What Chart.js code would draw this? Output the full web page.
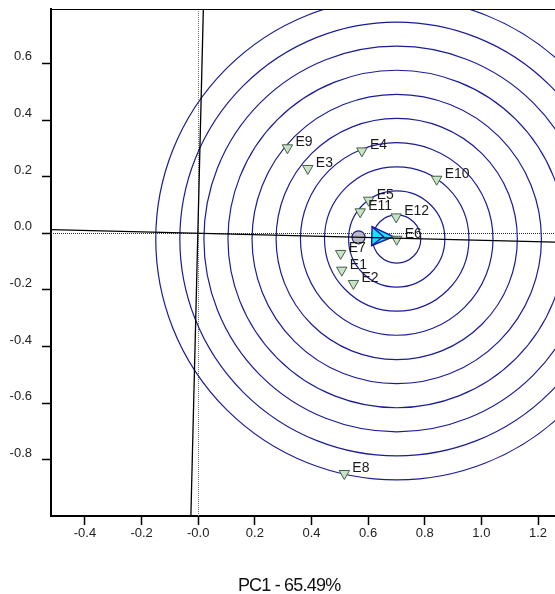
<!DOCTYPE html>
<html>
<head>
<meta charset="utf-8">
<script src="https://cdn.jsdelivr.net/npm/chart.js@4.4.0/dist/chart.umd.min.js"></script>
<style>
  html, body { margin: 0; padding: 0; background: #fff; overflow: hidden; }
  canvas { display: block; }
</style>
</head>
<body>
<canvas id="biplot" width="555" height="594"></canvas>
<script>
// Environment scores on PC1 / PC2
const envLabels = ['E1', 'E2', 'E3', 'E4', 'E5', 'E6', 'E7', 'E8', 'E9', 'E10', 'E11', 'E12'];
const envPC1 = [0.507, 0.548, 0.387, 0.578, 0.602, 0.701, 0.503, 0.516, 0.315, 0.842, 0.572, 0.699];
const envPC2 = [-0.130, -0.177, 0.229, 0.291, 0.117, -0.021, -0.071, -0.848, 0.302, 0.191, 0.076, 0.058];

// Average environment marker and arrow tip on the average-environment axis
const avgEnv = [0.566, -0.014];
const idealTip = [0.689, -0.012];

// Concentric rings around the ideal environment
const ringCenter = [0.701, -0.020];
const ringRadii = [0.085, 0.170, 0.255, 0.340, 0.426, 0.511, 0.596, 0.681, 0.766, 0.851];

// Average-environment axis and its perpendicular through the origin
const aeaAxisX = [-0.52, 1.27];
const aeaAxisY = [0.0128, -0.0314];
const aeaPerpX = [0.018, -0.026];
const aeaPerpY = [0.79, -1.0];

// Axis ticks
const xTicks = [-0.4, -0.2, 0, 0.2, 0.4, 0.6, 0.8, 1.0, 1.2];
const xTickLabels = ['-0.4', '-0.2', '-0.0', '0.2', '0.4', '0.6', '0.8', '1.0', '1.2'];
const yTicks = [-0.8, -0.6, -0.4, -0.2, 0, 0.2, 0.4, 0.6];
const yTickLabels = ['-0.8', '-0.6', '-0.4', '-0.2', '0.0', '0.2', '0.4', '0.6'];
const xTitle = 'PC1 - 65.49%';
const xTitleAt = 0.321;

const FONT = "'Liberation Sans', Arial, sans-serif";
const RING_COLOR = '#1c1c98';

const toPoints = (xs, ys) => xs.map((x, i) => ({ x, y: ys[i] }));

// Fixed scale footprint, no label-driven padding
const fixSize = (prop, size) => s => {
  s[prop] = size;
  s.paddingTop = s.paddingBottom = s.paddingLeft = s.paddingRight = 0;
};

// Background guides: dotted origin lines, concentric rings, arrow
const backdrop = {
  id: 'backdrop',
  beforeDatasetsDraw(chart) {
    const { ctx, chartArea: a, scales: { x, y } } = chart;
    ctx.save();
    ctx.beginPath();
    ctx.rect(a.left, a.top, a.right - a.left, a.bottom - a.top);
    ctx.clip();

    // dotted lines through the origin
    ctx.setLineDash([1, 1]);
    ctx.lineWidth = 1;
    ctx.strokeStyle = '#777';
    const x0 = Math.round(x.getPixelForValue(0)) + 0.5;
    ctx.beginPath(); ctx.moveTo(x0, a.top); ctx.lineTo(x0, a.bottom); ctx.stroke();
    ctx.strokeStyle = '#333';
    const y0 = Math.round(y.getPixelForValue(0)) + 0.5;
    ctx.beginPath(); ctx.moveTo(a.left, y0); ctx.lineTo(a.right, y0); ctx.stroke();
    ctx.setLineDash([]);

    // rings
    const cx = x.getPixelForValue(ringCenter[0]);
    const cy = y.getPixelForValue(ringCenter[1]);
    ctx.strokeStyle = RING_COLOR;
    ctx.lineWidth = 1.2;
    ringRadii.forEach(r => {
      const rp = x.getPixelForValue(ringCenter[0] + r) - cx;
      ctx.beginPath();
      ctx.arc(cx, cy, rp, 0, Math.PI * 2);
      ctx.stroke();
    });

    // arrow head pointing along the average-environment axis
    const tx = x.getPixelForValue(idealTip[0]);
    const ty = y.getPixelForValue(idealTip[1]);
    const ang = Math.atan2(
      y.getPixelForValue(aeaAxisY[1]) - y.getPixelForValue(aeaAxisY[0]),
      x.getPixelForValue(aeaAxisX[1]) - x.getPixelForValue(aeaAxisX[0]));
    ctx.translate(tx, ty);
    ctx.rotate(ang);
    ctx.beginPath();
    ctx.moveTo(0, 0);
    ctx.lineTo(-21.5, -9.5);
    ctx.lineTo(-21.5, 9.5);
    ctx.closePath();
    ctx.fillStyle = '#18e4ff';
    ctx.fill();
    ctx.lineWidth = 1.4;
    ctx.strokeStyle = '#1818a0';
    ctx.stroke();
    ctx.beginPath();
    ctx.moveTo(-21.5, -9.5);
    ctx.lineTo(-10, 0);
    ctx.lineTo(-21.5, 9.5);
    ctx.stroke();
    ctx.restore();
  }
};

// Environment names, top frame line and axis title
const annotations = {
  id: 'annotations',
  afterDatasetsDraw(chart) {
    const { ctx, chartArea: a, scales: { x } } = chart;
    ctx.save();
    const meta = chart.getDatasetMeta(chart.data.datasets.findIndex(d => d.label === 'env'));
    ctx.font = '14px ' + FONT;
    ctx.fillStyle = '#1a1a1a';
    ctx.textAlign = 'left';
    ctx.textBaseline = 'middle';
    meta.data.forEach((pt, i) => {
      ctx.fillText(envLabels[i], pt.x + 8, pt.y - 5.5);
    });

    ctx.strokeStyle = '#000';
    ctx.lineWidth = 1.2;
    ctx.beginPath();
    ctx.moveTo(a.left, a.top + 0.5);
    ctx.lineTo(a.right, a.top + 0.5);
    ctx.stroke();

    ctx.font = '18px ' + FONT;
    if ('letterSpacing' in ctx) ctx.letterSpacing = '-0.8px';
    ctx.fillStyle = '#111';
    ctx.textAlign = 'center';
    ctx.textBaseline = 'alphabetic';
    ctx.fillText(xTitle, x.getPixelForValue(xTitleAt), 590.5);
    ctx.restore();
  }
};

new Chart(document.getElementById('biplot'), {
  type: 'scatter',
  data: {
    datasets: [
      {
        label: 'aea',
        type: 'line',
        data: toPoints(aeaAxisX, aeaAxisY),
        borderColor: '#000',
        borderWidth: 1.3,
        pointRadius: 0,
        fill: false
      },
      {
        label: 'perp',
        type: 'line',
        data: toPoints(aeaPerpX, aeaPerpY),
        borderColor: '#000',
        borderWidth: 1.3,
        pointRadius: 0,
        fill: false
      },
      {
        label: 'avg',
        data: [{ x: avgEnv[0], y: avgEnv[1] }],
        pointStyle: 'circle',
        pointRadius: 6.5,
        backgroundColor: '#b9b9c8',
        borderColor: RING_COLOR,
        borderWidth: 1.2
      },
      {
        label: 'env',
        data: toPoints(envPC1, envPC2),
        pointStyle: 'triangle',
        rotation: 180,
        pointRadius: 6,
        backgroundColor: '#c6e4c6',
        borderColor: '#4a5c4a',
        borderWidth: 1
      }
    ]
  },
  options: {
    responsive: false,
    devicePixelRatio: 1,
    animation: false,
    events: [],
    layout: { autoPadding: false, padding: { top: 9, right: 0, left: 0, bottom: 0 } },
    plugins: {
      legend: { display: false },
      tooltip: { enabled: false }
    },
    scales: {
      x: {
        type: 'linear',
        min: -0.52,
        max: 1.26,
        afterFit: fixSize('height', 78),
        afterBuildTicks: s => { s.ticks = xTicks.map(v => ({ value: v })); },
        grid: {
          drawOnChartArea: false,
          drawTicks: true,
          tickLength: 9,
          tickColor: '#000',
          tickWidth: 1.5
        },
        border: { display: true, color: '#000', width: 2 },
        ticks: {
          padding: 1,
          color: '#222',
          font: { family: FONT, size: 13 },
          maxRotation: 0,
          callback: (v, i) => xTickLabels[i]
        }
      },
      y: {
        type: 'linear',
        min: -0.998,
        max: 0.792,
        afterFit: fixSize('width', 51),
        afterBuildTicks: s => { s.ticks = yTicks.map(v => ({ value: v })); },
        grid: {
          drawOnChartArea: false,
          drawTicks: true,
          tickLength: 9,
          tickColor: '#000',
          tickWidth: 1.5
        },
        border: { display: true, color: '#000', width: 2 },
        ticks: {
          padding: 10,
          labelOffset: -6.5,
          color: '#222',
          font: { family: FONT, size: 13 },
          callback: (v, i) => yTickLabels[i]
        }
      }
    }
  },
  plugins: [backdrop, annotations]
});
</script>
</body>
</html>
